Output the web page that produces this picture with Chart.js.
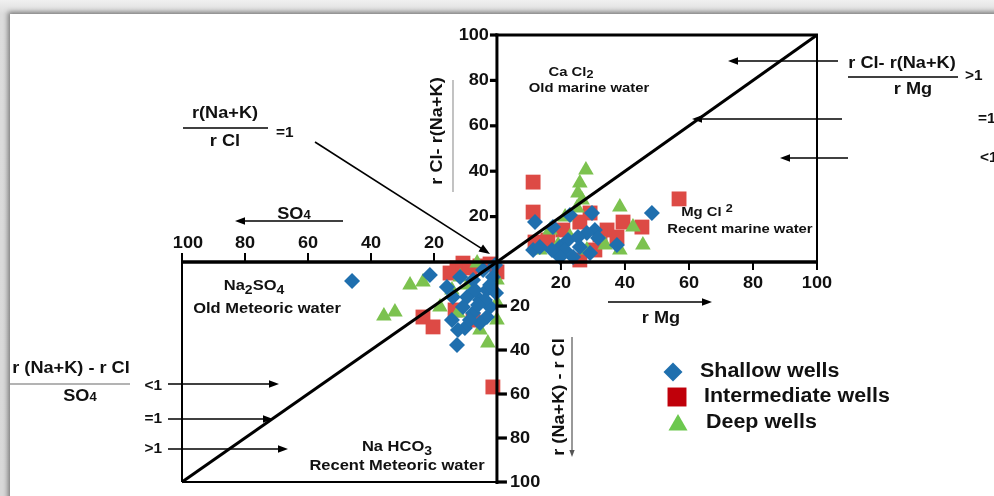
<!DOCTYPE html>
<html>
<head>
<meta charset="utf-8">
<script src="https://cdn.jsdelivr.net/npm/chart.js@4.4.1/dist/chart.umd.min.js"></script>
<style>
  html, body { margin: 0; padding: 0; width: 994px; height: 496px; overflow: hidden;
    background: linear-gradient(#f0f0f0, #dcdcdc 14px, #d8d8d8); }
  #sheet { position: absolute; left: 10px; top: 14px; width: 1000px; height: 500px;
    background: #fff; box-shadow: -2px -2px 5px rgba(0,0,0,0.45); }
  #wrap { position: absolute; left: 0; top: 0; width: 994px; height: 496px; }
</style>
</head>
<body>
<div id="sheet"></div>
<div id="wrap"><canvas id="c" width="994" height="496"></canvas></div>
<script>
// Sulin diagram: upper-right field uses rMg vs rCl - r(Na+K),
// lower-left field uses SO4 vs r(Na+K) - rCl (both plotted outward from origin).
const tickValues = [20, 40, 60, 80, 100];
const seriesNames = ['Shallow wells', 'Intermediate wells', 'Deep wells'];

// Shallow wells
const shallowMg = [48.4, 22.8, 11.9, 17.5, 29.7, 30.6, 28.1, 37.5, 11.3, 13.4, 19.7, 22.2, 21.2, 25.9, 23.8, 29.1, 19.7, 17.2, 25.3, 31.6];
const shallowClExcess = [21.6, 20.7, 17.6, 15.4, 21.6, 14.1, 12.8, 7.5, 5.3, 6.6, 6.6, 9.7, 5.3, 6.6, 2.2, 4.0, 2.2, 5.3, 11.0, 10.6];
const shallowSO4 = [21.3, 12.7, 14.3, 10.2, 5.4, 3.2, 1.3, 2.2, 0.3, 7.6, 9.5, 14.0, 15.9, 7.6, 3.2, 10.8, 5.4, 4.4, 0.6, 11.7, 46.0, 7.0, 3.8, 8.6, 2.2, 6.0, 12.4];
const shallowNaExcess = [5.9, 37.7, 26.4, 30.0, 17.3, 12.7, 6.8, 20.5, 14.1, 8.2, 15.9, 15.9, 11.4, 23.2, 25.0, 20.5, 27.7, 3.6, 1.4, 6.8, 8.6, 12.7, 17.3, 26.4, 10.5, 19.5, 30.9];

// Intermediate wells
const interMg = [11.3, 11.3, 56.9, 11.9, 29.1, 25.9, 34.4, 39.4, 45.3, 20.6, 30.6, 25.9, 37.5, 32.2, 15.9];
const interClExcess = [35.2, 22.0, 27.8, 8.8, 21.6, 17.6, 14.1, 17.6, 15.4, 14.1, 5.3, 0.9, 11.0, 11.9, 9.7];
const interSO4 = [12.7, 14.9, 23.5, 20.3, 1.3, 7.6, 13.3, 0.0, 2.2, 10.8, 8.6, 5.4];
const interNaExcess = [2.7, 5.0, 25.0, 29.5, 56.8, 26.4, 21.8, 4.5, 0.9, 0.5, 2.7, 1.8];

// Deep wells
const deepMg = [27.8, 25.9, 25.3, 26.6, 38.4, 21.3, 16.6, 42.5, 33.8, 45.6, 38.4, 19.1, 13.4, 22.8, 28.1, 25.0];
const deepClExcess = [40.5, 34.8, 30.4, 27.3, 24.2, 19.8, 14.1, 15.4, 7.5, 7.5, 5.3, 7.5, 5.3, 11.0, 5.3, 23.8];
const deepSO4 = [32.4, 35.9, 27.6, 23.5, 18.1, 6.3, 11.7, 5.4, 2.9, 0.0, 0.0, 12.4, 9.2, 0.0, 14.3];
const deepNaExcess = [22.7, 24.5, 10.5, 9.1, 20.5, 0.5, 6.8, 30.9, 36.8, 26.4, 18.6, 23.2, 10.5, 8.2, 12.7];

const BLUE = '#1f6fae', RED = '#dd4a45', GREEN = '#7cc24f';
const LEGEND_COLORS = ['#1f6fae', '#c0000a', '#6cc84f'];

const pts = (xs, ys) => xs.map((v, i) => ({ x: v, y: ys[i] }));

const SX = 1.1; // horizontal stretch of the lettering
const FONT = '"Liberation Sans", Arial, sans-serif';
function setFont(ctx, size) { ctx.font = 'bold ' + size + 'px ' + FONT; }
function text(ctx, s, x, y, size, align = 'center', color = '#111') {
  ctx.save(); setFont(ctx, size); ctx.fillStyle = color; ctx.textBaseline = 'middle'; ctx.textAlign = 'left';
  const w = ctx.measureText(s).width * SX;
  const x0 = align === 'center' ? x - w / 2 : align === 'right' ? x - w : x;
  ctx.translate(x0, y); ctx.scale(SX, 1); ctx.fillText(s, 0, 0); ctx.restore();
}
// parts: [string, vertical shift, size factor]
function rich(ctx, parts, x, y, size, align = 'center') {
  ctx.save(); ctx.fillStyle = '#111'; ctx.textBaseline = 'middle'; ctx.textAlign = 'left';
  const widths = parts.map(p => { setFont(ctx, size * (p[2] || 1)); return ctx.measureText(p[0]).width * SX; });
  const total = widths.reduce((a, b) => a + b, 0);
  let cx = align === 'center' ? x - total / 2 : align === 'right' ? x - total : x;
  parts.forEach((p, i) => {
    setFont(ctx, size * (p[2] || 1));
    ctx.save(); ctx.translate(cx, y + (p[1] || 0)); ctx.scale(SX, 1); ctx.fillText(p[0], 0, 0); ctx.restore();
    cx += widths[i];
  });
  ctx.restore();
}
function vtext(ctx, s, x, y, size) {
  ctx.save(); ctx.translate(x, y); ctx.rotate(-Math.PI / 2); text(ctx, s, 0, 0, size); ctx.restore();
}
function seg(ctx, x1, y1, x2, y2, w, color = '#000') {
  ctx.save(); ctx.strokeStyle = color; ctx.lineWidth = w; ctx.lineCap = 'butt';
  ctx.beginPath(); ctx.moveTo(x1, y1); ctx.lineTo(x2, y2); ctx.stroke(); ctx.restore();
}
function arrow(ctx, x1, y1, x2, y2, w = 1.6, head = 10, color = '#000') {
  const a = Math.atan2(y2 - y1, x2 - x1);
  seg(ctx, x1, y1, x2 - Math.cos(a) * head * 0.6, y2 - Math.sin(a) * head * 0.6, w, color);
  ctx.save(); ctx.fillStyle = color; ctx.beginPath();
  ctx.moveTo(x2, y2);
  ctx.lineTo(x2 - Math.cos(a) * head + Math.sin(a) * head * 0.38, y2 - Math.sin(a) * head - Math.cos(a) * head * 0.38);
  ctx.lineTo(x2 - Math.cos(a) * head - Math.sin(a) * head * 0.38, y2 - Math.sin(a) * head + Math.cos(a) * head * 0.38);
  ctx.closePath(); ctx.fill(); ctx.restore();
}

const overlay = {
  id: 'sulinOverlay',
  afterDatasetsDraw(chart) {
    const ctx = chart.ctx;
    const sx = chart.scales.x, sy = chart.scales.y, lx = chart.scales.xL, ly = chart.scales.yL;
    const ox = sx.getPixelForValue(0), oy = sy.getPixelForValue(0);
    const top = sy.getPixelForValue(100), right = sx.getPixelForValue(100);
    const left = lx.getPixelForValue(100), bottom = ly.getPixelForValue(100);

    // frames of the two fields
    seg(ctx, ox - 1.5, top, right + 1, top, 3.2);
    seg(ctx, right, top, right, oy, 2);
    seg(ctx, left, oy, left, bottom, 2);
    seg(ctx, left, bottom, ox, bottom, 2);
    // main axes
    seg(ctx, left - 1, oy, right + 1, oy, 3.5);
    seg(ctx, ox, top - 1.5, ox, bottom + 2, 3);
    // diagonal r(Na+K)/rCl = 1
    seg(ctx, lx.getPixelForValue(100), ly.getPixelForValue(100), ox, oy, 3);
    seg(ctx, ox, oy, sx.getPixelForValue(100), sy.getPixelForValue(100), 3);

    // ticks and their labels
    tickValues.forEach(v => {
      const py = sy.getPixelForValue(v);
      seg(ctx, ox - 7, py, ox, py, 3.2);
      text(ctx, String(v), ox - 8, py, 16.5, 'right');

      const pyl = ly.getPixelForValue(v);
      seg(ctx, ox, pyl, ox + 10, pyl, 3.2);
      text(ctx, String(v), ox + 13, pyl, 16.5, 'left');

      const pxl = lx.getPixelForValue(v);
      seg(ctx, pxl, oy - 9, pxl, oy, 2);
      text(ctx, String(v), pxl + (v === 100 ? 6 : 0), oy - 19, 16.5, 'center');

      const pxu = sx.getPixelForValue(v);
      seg(ctx, pxu, oy, pxu, oy + 8, 2);
      text(ctx, String(v), pxu, oy + 21, 16.5, 'center');
    });

    // axis titles
    vtext(ctx, 'r Cl- r(Na+K)', 437, 131, 16.5);
    seg(ctx, 453, 192, 453, 80, 1.2, '#9a9a9a');
    vtext(ctx, 'r (Na+K) - r Cl', 559, 397, 16.5);
    arrow(ctx, 572, 337, 572, 457, 1.2, 7, '#555');
    text(ctx, 'r Mg', 661, 318, 16.5);
    arrow(ctx, 608, 302, 712, 302, 1.6, 10);
    rich(ctx, [['SO', 0, 1], ['4', 2, 0.72]], 294, 214, 16.5);
    arrow(ctx, 343, 221, 235, 221, 1.6, 10);

    // water-type fields
    rich(ctx, [['Ca Cl', 0, 1], ['2', 3, 0.85]], 571, 72, 13.5);
    text(ctx, 'Old marine water', 589, 88, 13.5);
    rich(ctx, [['Mg Cl ', 0, 1], ['2', -3, 0.85]], 707, 212, 13.5);
    text(ctx, 'Recent marine water', 740, 229, 13.5);
    rich(ctx, [['Na', 0, 1], ['2', 4, 0.85], ['SO', 0, 1], ['4', 4, 0.85]], 254, 286, 15);
    text(ctx, 'Old Meteoric water', 267, 309, 15);
    rich(ctx, [['Na HCO', 0, 1], ['3', 4, 0.85]], 397, 447, 15);
    text(ctx, 'Recent Meteoric water', 397, 466, 15);

    // r(Na+K)/rCl = 1 note
    text(ctx, 'r(Na+K)', 225, 113, 16.5);
    seg(ctx, 183, 128, 268, 128, 1.5);
    text(ctx, 'r Cl', 225, 141, 16.5);
    text(ctx, '=1', 276, 133, 14, 'left');
    arrow(ctx, 315, 142, 490, 254, 1.6, 11);

    // (rCl - r(Na+K))/rMg note on the right
    text(ctx, 'r Cl- r(Na+K)', 902, 63, 16.5);
    seg(ctx, 848, 77, 958, 77, 1.5);
    text(ctx, 'r Mg', 913, 89, 16.5);
    text(ctx, '>1', 965, 76, 14, 'left');
    text(ctx, '=1', 978, 119, 14, 'left');
    text(ctx, '<1', 980, 158, 14, 'left');
    arrow(ctx, 838, 61, 728, 61, 1.6, 10);
    arrow(ctx, 842, 119, 692, 119, 1.6, 10);
    arrow(ctx, 848, 158, 780, 158, 1.6, 10);

    // (r(Na+K) - rCl)/SO4 note on the left
    text(ctx, 'r (Na+K) - r Cl', 71, 368, 16.5);
    seg(ctx, 10, 384, 130, 384, 1.3, '#9a9a9a');
    rich(ctx, [['SO', 0, 1], ['4', 2, 0.72]], 80, 396, 16.5);
    text(ctx, '<1', 162, 386, 14, 'right');
    text(ctx, '=1', 162, 419, 14, 'right');
    text(ctx, '>1', 162, 449, 14, 'right');
    arrow(ctx, 168, 384, 279, 384, 1.6, 10);
    arrow(ctx, 168, 419, 273, 419, 1.6, 10);
    arrow(ctx, 168, 449, 288, 449, 1.6, 10);

    // legend
    const legendStyles = [
      { pointStyle: 'rectRot', radius: 9.5 },
      { pointStyle: 'rect', radius: 13.4 },
      { pointStyle: 'triangle', radius: 11 }
    ];
    const legendY = [372, 397, 423];
    const markerX = [673, 677, 678];
    const labelX = [700, 704, 706];
    seriesNames.forEach((name, i) => {
      ctx.save();
      ctx.fillStyle = LEGEND_COLORS[i];
      Chart.helpers.drawPoint(ctx, { pointStyle: legendStyles[i].pointStyle, radius: legendStyles[i].radius, rotation: 0, borderWidth: 0 }, markerX[i], legendY[i] + (i === 2 ? 2 : 0));
      ctx.restore();
      text(ctx, name, labelX[i], legendY[i], 19.5, 'left');
    });
  }
};

const common = { showLine: false, borderWidth: 0 };
new Chart(document.getElementById('c'), {
  type: 'scatter',
  data: {
    datasets: [
      { ...common, label: seriesNames[0], data: pts(shallowMg, shallowClExcess), xAxisID: 'x', yAxisID: 'y',
        pointStyle: 'rectRot', pointRadius: 8, backgroundColor: BLUE, order: 0 },
      { ...common, label: seriesNames[0], data: pts(shallowSO4, shallowNaExcess), xAxisID: 'xL', yAxisID: 'yL',
        pointStyle: 'rectRot', pointRadius: 8, backgroundColor: BLUE, order: 0 },
      { ...common, label: seriesNames[2], data: pts(deepMg, deepClExcess), xAxisID: 'x', yAxisID: 'y',
        pointStyle: 'triangle', pointRadius: 9, backgroundColor: GREEN, order: 1 },
      { ...common, label: seriesNames[2], data: pts(deepSO4, deepNaExcess), xAxisID: 'xL', yAxisID: 'yL',
        pointStyle: 'triangle', pointRadius: 9, backgroundColor: GREEN, order: 1 },
      { ...common, label: seriesNames[1], data: pts(interMg, interClExcess), xAxisID: 'x', yAxisID: 'y',
        pointStyle: 'rect', pointRadius: 10.5, backgroundColor: RED, order: 2 },
      { ...common, label: seriesNames[1], data: pts(interSO4, interNaExcess), xAxisID: 'xL', yAxisID: 'yL',
        pointStyle: 'rect', pointRadius: 10.5, backgroundColor: RED, order: 2 }
    ]
  },
  options: {
    responsive: false,
    animation: false,
    devicePixelRatio: 1,
    layout: { padding: { left: 182, right: 177, top: 35, bottom: 14 } },
    plugins: { legend: { display: false }, tooltip: { enabled: false } },
    scales: {
      x: { type: 'linear', axis: 'x', min: -98.4, max: 100, display: false },
      y: { type: 'linear', axis: 'y', min: -96.9, max: 100, display: false },
      xL: { type: 'linear', axis: 'x', min: -101.6, max: 100, reverse: true, display: false },
      yL: { type: 'linear', axis: 'y', min: -103.2, max: 100, reverse: true, display: false }
    }
  },
  plugins: [overlay]
});
</script>
</body>
</html>
